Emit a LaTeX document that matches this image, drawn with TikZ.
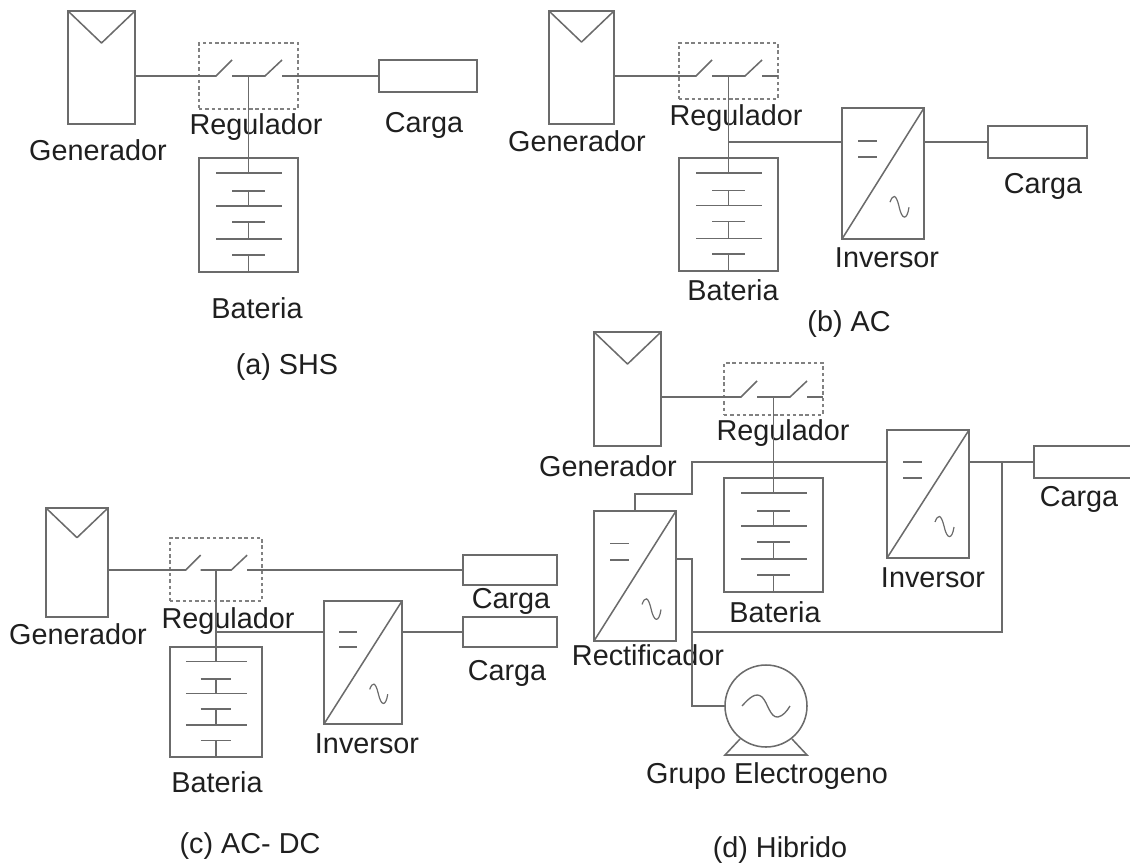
\documentclass[tikz,border=0pt]{standalone}
\usepackage{fontspec}
\setmainfont{Liberation Sans}
\usetikzlibrary{calc}
\definecolor{gris}{gray}{0.42}
\definecolor{letra}{gray}{0.12}
\tikzset{
  linea/.style={draw=gris, line width=1.15pt},
  fina/.style={draw=gris, line width=1.15pt, line join=round},
  caja/.style={linea, anchor=north west, inner sep=0pt, outer sep=0pt},
  tam/.style 2 args={minimum width={#1*0.75pt}, minimum height={#2*0.75pt}},
  punteada/.style={caja, draw=gris!85, line width=0.95pt, dash pattern=on 2.6pt off 2.1pt},
  etiqueta/.style={text=letra, inner sep=0pt, text height=15.5pt, text depth=0pt,
    font=\fontsize{21.6}{24}\selectfont},
}
% name, x, y, width, height, y of the line
\newcommand{\generador}[6]{
  \node[caja, tam={#4}{#5}] (#1) at (#2,#3) {};
  \draw[fina] (#1.north west) -- ($(#1.north)+(0,{#4*0.478})$) -- (#1.north east);
  \coordinate (#1out) at (#2+#4,#6);
}
\newcommand{\regulador}[6]{
  \node[punteada, tam={#4}{#5}] (#1) at (#2,#3) {};
  \begin{scope}[shift={(#2,#6)}, scale={#4/99}]
    \draw[linea] (0,0) coordinate (#1in) -- (17,0) -- (33,-16);
    \draw[linea] (33,0) -- (66,0) -- (83,-16);
    \coordinate (#1drop) at (49.5,0);
    \coordinate (#1out) at (83,0);
  \end{scope}
}
\newcommand{\bateria}[5]{
  \node[caja, tam={#4}{#5}] (#1) at (#2,#3) {};
  \begin{scope}[shift={(#2,#3)}, xscale={#4/99}, yscale={#5/114}]
    \foreach \p in {15,48,81} \draw[linea] (17,\p) -- (83,\p);
    \foreach \p in {33,64,97} \draw[linea] (33,\p) -- (66,\p);
    \draw[linea] (49.5,33) -- (49.5,48);
    \draw[linea] (49.5,64) -- (49.5,81);
    \draw[linea] (49.5,97) -- (49.5,114);
    \coordinate (#1top) at (49.5,15);
  \end{scope}
}
\newcommand{\inversor}[6]{
  \node[caja, tam={#4}{#5}] (#1) at (#2,#3) {};
  \draw[fina] (#1.south west) -- (#1.north east);
  \begin{scope}[shift={(#2,#3)}, xscale={#4/82}, yscale={#5/128}]
    \draw[linea] (16,32) -- (35,32);
    \draw[linea] (16,48) -- (35,48);
    \draw[linea, line width=0.9pt] (48,92) .. controls (51,84) and (54,84) .. (57,96) .. controls (60,110) and (65,110) .. (67,97);
  \end{scope}
  \coordinate (#1in) at (#2,#6);
  \coordinate (#1out) at (#2+#4,#6);
}

\begin{document}
\begin{tikzpicture}[x=0.75pt, y=-0.75pt]
    \useasboundingbox (0,0) rectangle (1130,863);

    % Labels
    \node[etiqueta] (genAt) at (98,150) {Generador};
    \node[etiqueta] (regAt) at (256,124) {Regulador};
    \node[etiqueta] (carAt) at (424,122) {Carga};
    \node[etiqueta] (batAt) at (257,308) {Bateria};
    \node[etiqueta] (capA) at (287,364) {(a) SHS};

    \node[etiqueta] (genBt) at (577,141) {Generador};
    \node[etiqueta] (regBt) at (736,115) {Regulador};
    \node[etiqueta] (batBt) at (733,290) {Bateria};
    \node[etiqueta] (invBt) at (887,257) {Inversor};
    \node[etiqueta] (carBt) at (1043,183) {Carga};
    \node[etiqueta] (capB) at (849,321) {(b) AC};

    \node[etiqueta] (genCt) at (78,634) {Generador};
    \node[etiqueta] (regCt) at (228,618) {Regulador};
    \node[etiqueta] (batCt) at (217,782) {Bateria};
    \node[etiqueta] (invCt) at (367,743) {Inversor};
    \node[etiqueta] (carCt) at (511,598) {Carga};
    \node[etiqueta] (carEt) at (507,670) {Carga};
    \node[etiqueta] (capC) at (250,843) {(c) AC- DC};

    \node[etiqueta] (genDt) at (608,466) {Generador};
    \node[etiqueta] (regDt) at (783,430) {Regulador};
    \node[etiqueta] (batDt) at (775,612) {Bateria};
    \node[etiqueta] (invDt) at (933,577) {Inversor};
    \node[etiqueta] (carDt) at (1079,496) {Carga};
    \node[etiqueta] (recDt) at (648,655) {Rectificador};
    \node[etiqueta] (gruDt) at (767,773) {Grupo Electrogeno};
    \node[etiqueta] (capD) at (780,847) {(d) Hibrido};

    % (a) SHS
    \generador{genA}{68}{11}{67}{113}{76}
    \regulador{regA}{199}{43}{99}{66}{76}
    \bateria{batA}{199}{158}{99}{114}
    \node[caja, tam={98}{32}] (carA) at (379,60) {};
    \draw[linea] (genAout) -- (regAin);
    \draw[linea] (regAdrop) -- (batAtop);
    \draw[linea] (regAout) -- (carA.west);

    % (b) AC
    \generador{genB}{549}{11}{65}{113}{76}
    \regulador{regB}{679}{43}{99}{56}{76}
    \bateria{batB}{679}{158}{99}{113}
    \inversor{invB}{842}{108}{82}{131}{142}
    \node[caja, tam={99}{32}] (carB) at (988,126) {};
    \draw[linea] (genBout) -- (regBin);
    \draw[linea] (regBout) -- (regB.east |- regBout);
    \draw[linea] (regBdrop) -- (batBtop);
    \draw[linea] (regBdrop |- invBin) -- (invBin);
    \draw[linea] (invBout) -- (carB.west);

    % (c) AC- DC
    \generador{genC}{46}{508}{62}{109}{570}
    \regulador{regC}{170}{538}{92}{63}{570}
    \bateria{batC}{170}{647}{92}{110}
    \inversor{invC}{324}{601}{78}{123}{632}
    \node[caja, tam={94}{30}] (carC) at (463,555) {};
    \node[caja, tam={94}{30}] (carE) at (463,617) {};
    \draw[linea] (genCout) -- (regCin);
    \draw[linea] (regCdrop) -- (batCtop);
    \draw[linea] (regCout) -- (carC.west);
    \draw[linea] (regCdrop |- invCin) -- (invCin);
    \draw[linea] (invCout) -- (carE.west);

    % (d) Hibrido
    \generador{genD}{594}{332}{67}{114}{397}
    \regulador{regD}{724}{363}{99}{52}{397}
    \bateria{batD}{724}{478}{99}{114}
    \inversor{invD}{887}{430}{82}{128}{462}
    \inversor{recD}{594}{511}{82}{130}{559}
    \node[caja, tam={97}{32}] (carD) at (1034,446) {};
    \node[circle, draw=gris, line width=1.15pt, inner sep=0pt, outer sep=0pt, minimum size={82*0.75pt}] (gruD) at (766,706) {};
    \draw[linea, line width=1pt] (742,706) .. controls (750,697) and (756,692) .. (762,697) .. controls (768,703) and (770,718) .. (778,717) .. controls (783,716) and (787,711) .. (790,706);
    \draw[linea] (740,739) -- (725,755) -- (807,755) -- (792,739);
    \coordinate (busD) at (692,494);
    \coordinate (bajD) at (692,632);
    \coordinate (junD) at (1002,462);
    \draw[linea] (genDout) -- (regDin);
    \draw[linea] (regDout) -- (regD.east |- regDout);
    \draw[linea] (regDdrop) -- (batDtop);
    \draw[linea] (recD.north) |- (busD) |- (invDin);
    \draw[linea] (invDout) -- (carD.west);
    \draw[linea] (bajD) -| (junD);
    \draw[linea] (recDout) -| (bajD) |- (gruD.west);
\end{tikzpicture}
\end{document}
